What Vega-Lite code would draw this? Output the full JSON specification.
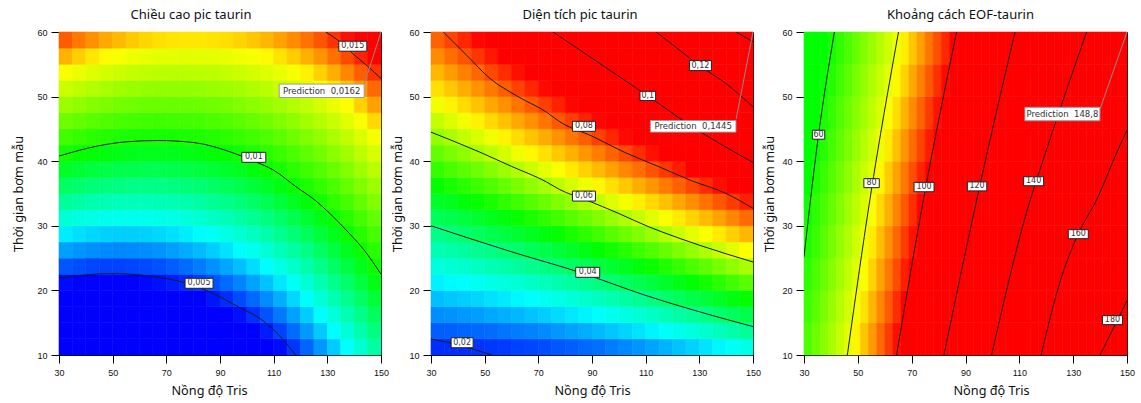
{
"$schema":"https://vega.github.io/schema/vega-lite/v6.json",
"background":"#ffffff",
"padding":{"left":12,"top":8,"right":0,"bottom":0},
"spacing":1,
"config":{
"view":{"stroke":"#000000","strokeWidth":1},
"axis":{"grid":false,"domainColor":"#000000","tickColor":"#000000","tickSize":8,"labelFont":"Liberation Sans","labelFontSize":9,"labelColor":"#111111","labelFlush":false,"labelOverlap":false,"titleFont":"Noto Sans","titleFontSize":12.7,"titleFontWeight":"normal","titleColor":"#111111"},
"axisX":{"labelPadding":5,"titlePadding":7},
"axisY":{"labelPadding":4},
"title":{"font":"Noto Sans","fontSize":13,"fontWeight":"normal","color":"#111111","offset":6}
},
"resolve":{"scale":{"color":"independent","stroke":"independent","shape":"independent"}},
"datasets":{
"h1":[
{"x":32.5,"y":11.25,"v":0.00223},{"x":32.5,"y":13.75,"v":0.00287},{"x":32.5,"y":16.25,"v":0.0035},{"x":32.5,"y":18.75,"v":0.00414},{"x":32.5,"y":21.25,"v":0.00479},{"x":32.5,"y":23.75,"v":0.00543},{"x":32.5,"y":26.25,"v":0.00608},{"x":32.5,"y":28.75,"v":0.00674},{"x":32.5,"y":31.25,"v":0.00739},{"x":32.5,"y":33.75,"v":0.00805},{"x":32.5,"y":36.25,"v":0.00871},{"x":32.5,"y":38.75,"v":0.00937},{"x":32.5,"y":41.25,"v":0.01004},{"x":32.5,"y":43.75,"v":0.01071},{"x":32.5,"y":46.25,"v":0.01138},{"x":32.5,"y":48.75,"v":0.01205},{"x":32.5,"y":51.25,"v":0.01273},{"x":32.5,"y":53.75,"v":0.01341},{"x":32.5,"y":56.25,"v":0.0141},{"x":32.5,"y":58.75,"v":0.01478},
{"x":37.5,"y":11.25,"v":0.0022},{"x":37.5,"y":13.75,"v":0.00283},{"x":37.5,"y":16.25,"v":0.00345},{"x":37.5,"y":18.75,"v":0.00409},{"x":37.5,"y":21.25,"v":0.00472},{"x":37.5,"y":23.75,"v":0.00536},{"x":37.5,"y":26.25,"v":0.00599},{"x":37.5,"y":28.75,"v":0.00664},{"x":37.5,"y":31.25,"v":0.00728},{"x":37.5,"y":33.75,"v":0.00793},{"x":37.5,"y":36.25,"v":0.00858},{"x":37.5,"y":38.75,"v":0.00923},{"x":37.5,"y":41.25,"v":0.00989},{"x":37.5,"y":43.75,"v":0.01055},{"x":37.5,"y":46.25,"v":0.01121},{"x":37.5,"y":48.75,"v":0.01187},{"x":37.5,"y":51.25,"v":0.01254},{"x":37.5,"y":53.75,"v":0.01321},{"x":37.5,"y":56.25,"v":0.01388},{"x":37.5,"y":58.75,"v":0.01456},
{"x":42.5,"y":11.25,"v":0.0022},{"x":42.5,"y":13.75,"v":0.00281},{"x":42.5,"y":16.25,"v":0.00343},{"x":42.5,"y":18.75,"v":0.00405},{"x":42.5,"y":21.25,"v":0.00467},{"x":42.5,"y":23.75,"v":0.0053},{"x":42.5,"y":26.25,"v":0.00593},{"x":42.5,"y":28.75,"v":0.00656},{"x":42.5,"y":31.25,"v":0.00719},{"x":42.5,"y":33.75,"v":0.00783},{"x":42.5,"y":36.25,"v":0.00847},{"x":42.5,"y":38.75,"v":0.00911},{"x":42.5,"y":41.25,"v":0.00976},{"x":42.5,"y":43.75,"v":0.01041},{"x":42.5,"y":46.25,"v":0.01106},{"x":42.5,"y":48.75,"v":0.01171},{"x":42.5,"y":51.25,"v":0.01237},{"x":42.5,"y":53.75,"v":0.01303},{"x":42.5,"y":56.25,"v":0.01369},{"x":42.5,"y":58.75,"v":0.01436},
{"x":47.5,"y":11.25,"v":0.00222},{"x":47.5,"y":13.75,"v":0.00283},{"x":47.5,"y":16.25,"v":0.00343},{"x":47.5,"y":18.75,"v":0.00404},{"x":47.5,"y":21.25,"v":0.00466},{"x":47.5,"y":23.75,"v":0.00527},{"x":47.5,"y":26.25,"v":0.00589},{"x":47.5,"y":28.75,"v":0.00651},{"x":47.5,"y":31.25,"v":0.00713},{"x":47.5,"y":33.75,"v":0.00776},{"x":47.5,"y":36.25,"v":0.00839},{"x":47.5,"y":38.75,"v":0.00902},{"x":47.5,"y":41.25,"v":0.00966},{"x":47.5,"y":43.75,"v":0.0103},{"x":47.5,"y":46.25,"v":0.01094},{"x":47.5,"y":48.75,"v":0.01158},{"x":47.5,"y":51.25,"v":0.01223},{"x":47.5,"y":53.75,"v":0.01288},{"x":47.5,"y":56.25,"v":0.01353},{"x":47.5,"y":58.75,"v":0.01418},
{"x":52.5,"y":11.25,"v":0.00227},{"x":52.5,"y":13.75,"v":0.00286},{"x":52.5,"y":16.25,"v":0.00346},{"x":52.5,"y":18.75,"v":0.00406},{"x":52.5,"y":21.25,"v":0.00466},{"x":52.5,"y":23.75,"v":0.00527},{"x":52.5,"y":26.25,"v":0.00587},{"x":52.5,"y":28.75,"v":0.00649},{"x":52.5,"y":31.25,"v":0.0071},{"x":52.5,"y":33.75,"v":0.00772},{"x":52.5,"y":36.25,"v":0.00834},{"x":52.5,"y":38.75,"v":0.00896},{"x":52.5,"y":41.25,"v":0.00958},{"x":52.5,"y":43.75,"v":0.01021},{"x":52.5,"y":46.25,"v":0.01084},{"x":52.5,"y":48.75,"v":0.01148},{"x":52.5,"y":51.25,"v":0.01211},{"x":52.5,"y":53.75,"v":0.01275},{"x":52.5,"y":56.25,"v":0.01339},{"x":52.5,"y":58.75,"v":0.01404},
{"x":57.5,"y":11.25,"v":0.00234},{"x":57.5,"y":13.75,"v":0.00292},{"x":57.5,"y":16.25,"v":0.00351},{"x":57.5,"y":18.75,"v":0.0041},{"x":57.5,"y":21.25,"v":0.00469},{"x":57.5,"y":23.75,"v":0.00529},{"x":57.5,"y":26.25,"v":0.00589},{"x":57.5,"y":28.75,"v":0.00649},{"x":57.5,"y":31.25,"v":0.00709},{"x":57.5,"y":33.75,"v":0.0077},{"x":57.5,"y":36.25,"v":0.00831},{"x":57.5,"y":38.75,"v":0.00892},{"x":57.5,"y":41.25,"v":0.00953},{"x":57.5,"y":43.75,"v":0.01015},{"x":57.5,"y":46.25,"v":0.01077},{"x":57.5,"y":48.75,"v":0.01139},{"x":57.5,"y":51.25,"v":0.01202},{"x":57.5,"y":53.75,"v":0.01265},{"x":57.5,"y":56.25,"v":0.01328},{"x":57.5,"y":58.75,"v":0.01391},
{"x":62.5,"y":11.25,"v":0.00244},{"x":62.5,"y":13.75,"v":0.00301},{"x":62.5,"y":16.25,"v":0.00359},{"x":62.5,"y":18.75,"v":0.00417},{"x":62.5,"y":21.25,"v":0.00475},{"x":62.5,"y":23.75,"v":0.00533},{"x":62.5,"y":26.25,"v":0.00592},{"x":62.5,"y":28.75,"v":0.00651},{"x":62.5,"y":31.25,"v":0.00711},{"x":62.5,"y":33.75,"v":0.0077},{"x":62.5,"y":36.25,"v":0.0083},{"x":62.5,"y":38.75,"v":0.0089},{"x":62.5,"y":41.25,"v":0.00951},{"x":62.5,"y":43.75,"v":0.01011},{"x":62.5,"y":46.25,"v":0.01072},{"x":62.5,"y":48.75,"v":0.01134},{"x":62.5,"y":51.25,"v":0.01195},{"x":62.5,"y":53.75,"v":0.01257},{"x":62.5,"y":56.25,"v":0.01319},{"x":62.5,"y":58.75,"v":0.01382},
{"x":67.5,"y":11.25,"v":0.00256},{"x":67.5,"y":13.75,"v":0.00312},{"x":67.5,"y":16.25,"v":0.00369},{"x":67.5,"y":18.75,"v":0.00426},{"x":67.5,"y":21.25,"v":0.00483},{"x":67.5,"y":23.75,"v":0.00541},{"x":67.5,"y":26.25,"v":0.00598},{"x":67.5,"y":28.75,"v":0.00656},{"x":67.5,"y":31.25,"v":0.00715},{"x":67.5,"y":33.75,"v":0.00773},{"x":67.5,"y":36.25,"v":0.00832},{"x":67.5,"y":38.75,"v":0.00891},{"x":67.5,"y":41.25,"v":0.00951},{"x":67.5,"y":43.75,"v":0.0101},{"x":67.5,"y":46.25,"v":0.0107},{"x":67.5,"y":48.75,"v":0.01131},{"x":67.5,"y":51.25,"v":0.01191},{"x":67.5,"y":53.75,"v":0.01252},{"x":67.5,"y":56.25,"v":0.01313},{"x":67.5,"y":58.75,"v":0.01374},
{"x":72.5,"y":11.25,"v":0.00271},{"x":72.5,"y":13.75,"v":0.00326},{"x":72.5,"y":16.25,"v":0.00382},{"x":72.5,"y":18.75,"v":0.00438},{"x":72.5,"y":21.25,"v":0.00494},{"x":72.5,"y":23.75,"v":0.0055},{"x":72.5,"y":26.25,"v":0.00607},{"x":72.5,"y":28.75,"v":0.00664},{"x":72.5,"y":31.25,"v":0.00721},{"x":72.5,"y":33.75,"v":0.00779},{"x":72.5,"y":36.25,"v":0.00836},{"x":72.5,"y":38.75,"v":0.00895},{"x":72.5,"y":41.25,"v":0.00953},{"x":72.5,"y":43.75,"v":0.01012},{"x":72.5,"y":46.25,"v":0.01071},{"x":72.5,"y":48.75,"v":0.0113},{"x":72.5,"y":51.25,"v":0.0119},{"x":72.5,"y":53.75,"v":0.01249},{"x":72.5,"y":56.25,"v":0.01309},{"x":72.5,"y":58.75,"v":0.0137},
{"x":77.5,"y":11.25,"v":0.00288},{"x":77.5,"y":13.75,"v":0.00342},{"x":77.5,"y":16.25,"v":0.00397},{"x":77.5,"y":18.75,"v":0.00452},{"x":77.5,"y":21.25,"v":0.00507},{"x":77.5,"y":23.75,"v":0.00562},{"x":77.5,"y":26.25,"v":0.00618},{"x":77.5,"y":28.75,"v":0.00674},{"x":77.5,"y":31.25,"v":0.0073},{"x":77.5,"y":33.75,"v":0.00787},{"x":77.5,"y":36.25,"v":0.00844},{"x":77.5,"y":38.75,"v":0.00901},{"x":77.5,"y":41.25,"v":0.00958},{"x":77.5,"y":43.75,"v":0.01016},{"x":77.5,"y":46.25,"v":0.01074},{"x":77.5,"y":48.75,"v":0.01132},{"x":77.5,"y":51.25,"v":0.0119},{"x":77.5,"y":53.75,"v":0.01249},{"x":77.5,"y":56.25,"v":0.01308},{"x":77.5,"y":58.75,"v":0.01368},
{"x":82.5,"y":11.25,"v":0.00308},{"x":82.5,"y":13.75,"v":0.00361},{"x":82.5,"y":16.25,"v":0.00415},{"x":82.5,"y":18.75,"v":0.00469},{"x":82.5,"y":21.25,"v":0.00523},{"x":82.5,"y":23.75,"v":0.00577},{"x":82.5,"y":26.25,"v":0.00632},{"x":82.5,"y":28.75,"v":0.00687},{"x":82.5,"y":31.25,"v":0.00742},{"x":82.5,"y":33.75,"v":0.00797},{"x":82.5,"y":36.25,"v":0.00853},{"x":82.5,"y":38.75,"v":0.00909},{"x":82.5,"y":41.25,"v":0.00966},{"x":82.5,"y":43.75,"v":0.01022},{"x":82.5,"y":46.25,"v":0.01079},{"x":82.5,"y":48.75,"v":0.01136},{"x":82.5,"y":51.25,"v":0.01194},{"x":82.5,"y":53.75,"v":0.01252},{"x":82.5,"y":56.25,"v":0.0131},{"x":82.5,"y":58.75,"v":0.01368},
{"x":87.5,"y":11.25,"v":0.0033},{"x":87.5,"y":13.75,"v":0.00383},{"x":87.5,"y":16.25,"v":0.00435},{"x":87.5,"y":18.75,"v":0.00488},{"x":87.5,"y":21.25,"v":0.00541},{"x":87.5,"y":23.75,"v":0.00594},{"x":87.5,"y":26.25,"v":0.00648},{"x":87.5,"y":28.75,"v":0.00702},{"x":87.5,"y":31.25,"v":0.00756},{"x":87.5,"y":33.75,"v":0.0081},{"x":87.5,"y":36.25,"v":0.00865},{"x":87.5,"y":38.75,"v":0.0092},{"x":87.5,"y":41.25,"v":0.00976},{"x":87.5,"y":43.75,"v":0.01031},{"x":87.5,"y":46.25,"v":0.01087},{"x":87.5,"y":48.75,"v":0.01143},{"x":87.5,"y":51.25,"v":0.012},{"x":87.5,"y":53.75,"v":0.01256},{"x":87.5,"y":56.25,"v":0.01313},{"x":87.5,"y":58.75,"v":0.01371},
{"x":92.5,"y":11.25,"v":0.00355},{"x":92.5,"y":13.75,"v":0.00406},{"x":92.5,"y":16.25,"v":0.00458},{"x":92.5,"y":18.75,"v":0.0051},{"x":92.5,"y":21.25,"v":0.00562},{"x":92.5,"y":23.75,"v":0.00614},{"x":92.5,"y":26.25,"v":0.00667},{"x":92.5,"y":28.75,"v":0.0072},{"x":92.5,"y":31.25,"v":0.00773},{"x":92.5,"y":33.75,"v":0.00826},{"x":92.5,"y":36.25,"v":0.0088},{"x":92.5,"y":38.75,"v":0.00934},{"x":92.5,"y":41.25,"v":0.00988},{"x":92.5,"y":43.75,"v":0.01043},{"x":92.5,"y":46.25,"v":0.01098},{"x":92.5,"y":48.75,"v":0.01153},{"x":92.5,"y":51.25,"v":0.01208},{"x":92.5,"y":53.75,"v":0.01264},{"x":92.5,"y":56.25,"v":0.0132},{"x":92.5,"y":58.75,"v":0.01376},
{"x":97.5,"y":11.25,"v":0.00383},{"x":97.5,"y":13.75,"v":0.00433},{"x":97.5,"y":16.25,"v":0.00483},{"x":97.5,"y":18.75,"v":0.00534},{"x":97.5,"y":21.25,"v":0.00585},{"x":97.5,"y":23.75,"v":0.00636},{"x":97.5,"y":26.25,"v":0.00688},{"x":97.5,"y":28.75,"v":0.0074},{"x":97.5,"y":31.25,"v":0.00792},{"x":97.5,"y":33.75,"v":0.00844},{"x":97.5,"y":36.25,"v":0.00897},{"x":97.5,"y":38.75,"v":0.0095},{"x":97.5,"y":41.25,"v":0.01003},{"x":97.5,"y":43.75,"v":0.01057},{"x":97.5,"y":46.25,"v":0.01111},{"x":97.5,"y":48.75,"v":0.01165},{"x":97.5,"y":51.25,"v":0.01219},{"x":97.5,"y":53.75,"v":0.01274},{"x":97.5,"y":56.25,"v":0.01329},{"x":97.5,"y":58.75,"v":0.01384},
{"x":102.5,"y":11.25,"v":0.00413},{"x":102.5,"y":13.75,"v":0.00462},{"x":102.5,"y":16.25,"v":0.00511},{"x":102.5,"y":18.75,"v":0.00561},{"x":102.5,"y":21.25,"v":0.00611},{"x":102.5,"y":23.75,"v":0.00661},{"x":102.5,"y":26.25,"v":0.00712},{"x":102.5,"y":28.75,"v":0.00762},{"x":102.5,"y":31.25,"v":0.00814},{"x":102.5,"y":33.75,"v":0.00865},{"x":102.5,"y":36.25,"v":0.00917},{"x":102.5,"y":38.75,"v":0.00969},{"x":102.5,"y":41.25,"v":0.01021},{"x":102.5,"y":43.75,"v":0.01073},{"x":102.5,"y":46.25,"v":0.01126},{"x":102.5,"y":48.75,"v":0.01179},{"x":102.5,"y":51.25,"v":0.01233},{"x":102.5,"y":53.75,"v":0.01286},{"x":102.5,"y":56.25,"v":0.0134},{"x":102.5,"y":58.75,"v":0.01394},
{"x":107.5,"y":11.25,"v":0.00445},{"x":107.5,"y":13.75,"v":0.00493},{"x":107.5,"y":16.25,"v":0.00542},{"x":107.5,"y":18.75,"v":0.0059},{"x":107.5,"y":21.25,"v":0.00639},{"x":107.5,"y":23.75,"v":0.00688},{"x":107.5,"y":26.25,"v":0.00738},{"x":107.5,"y":28.75,"v":0.00788},{"x":107.5,"y":31.25,"v":0.00838},{"x":107.5,"y":33.75,"v":0.00888},{"x":107.5,"y":36.25,"v":0.00939},{"x":107.5,"y":38.75,"v":0.0099},{"x":107.5,"y":41.25,"v":0.01041},{"x":107.5,"y":43.75,"v":0.01092},{"x":107.5,"y":46.25,"v":0.01144},{"x":107.5,"y":48.75,"v":0.01196},{"x":107.5,"y":51.25,"v":0.01249},{"x":107.5,"y":53.75,"v":0.01301},{"x":107.5,"y":56.25,"v":0.01354},{"x":107.5,"y":58.75,"v":0.01407},
{"x":112.5,"y":11.25,"v":0.0048},{"x":112.5,"y":13.75,"v":0.00527},{"x":112.5,"y":16.25,"v":0.00574},{"x":112.5,"y":18.75,"v":0.00622},{"x":112.5,"y":21.25,"v":0.0067},{"x":112.5,"y":23.75,"v":0.00718},{"x":112.5,"y":26.25,"v":0.00767},{"x":112.5,"y":28.75,"v":0.00815},{"x":112.5,"y":31.25,"v":0.00864},{"x":112.5,"y":33.75,"v":0.00914},{"x":112.5,"y":36.25,"v":0.00963},{"x":112.5,"y":38.75,"v":0.01013},{"x":112.5,"y":41.25,"v":0.01064},{"x":112.5,"y":43.75,"v":0.01114},{"x":112.5,"y":46.25,"v":0.01165},{"x":112.5,"y":48.75,"v":0.01216},{"x":112.5,"y":51.25,"v":0.01267},{"x":112.5,"y":53.75,"v":0.01319},{"x":112.5,"y":56.25,"v":0.01371},{"x":112.5,"y":58.75,"v":0.01423},
{"x":117.5,"y":11.25,"v":0.00517},{"x":117.5,"y":13.75,"v":0.00563},{"x":117.5,"y":16.25,"v":0.0061},{"x":117.5,"y":18.75,"v":0.00656},{"x":117.5,"y":21.25,"v":0.00703},{"x":117.5,"y":23.75,"v":0.0075},{"x":117.5,"y":26.25,"v":0.00798},{"x":117.5,"y":28.75,"v":0.00846},{"x":117.5,"y":31.25,"v":0.00894},{"x":117.5,"y":33.75,"v":0.00942},{"x":117.5,"y":36.25,"v":0.00991},{"x":117.5,"y":38.75,"v":0.01039},{"x":117.5,"y":41.25,"v":0.01089},{"x":117.5,"y":43.75,"v":0.01138},{"x":117.5,"y":46.25,"v":0.01188},{"x":117.5,"y":48.75,"v":0.01238},{"x":117.5,"y":51.25,"v":0.01288},{"x":117.5,"y":53.75,"v":0.01339},{"x":117.5,"y":56.25,"v":0.01389},{"x":117.5,"y":58.75,"v":0.01441},
{"x":122.5,"y":11.25,"v":0.00557},{"x":122.5,"y":13.75,"v":0.00602},{"x":122.5,"y":16.25,"v":0.00648},{"x":122.5,"y":18.75,"v":0.00693},{"x":122.5,"y":21.25,"v":0.00739},{"x":122.5,"y":23.75,"v":0.00785},{"x":122.5,"y":26.25,"v":0.00832},{"x":122.5,"y":28.75,"v":0.00879},{"x":122.5,"y":31.25,"v":0.00926},{"x":122.5,"y":33.75,"v":0.00973},{"x":122.5,"y":36.25,"v":0.0102},{"x":122.5,"y":38.75,"v":0.01068},{"x":122.5,"y":41.25,"v":0.01116},{"x":122.5,"y":43.75,"v":0.01165},{"x":122.5,"y":46.25,"v":0.01213},{"x":122.5,"y":48.75,"v":0.01262},{"x":122.5,"y":51.25,"v":0.01312},{"x":122.5,"y":53.75,"v":0.01361},{"x":122.5,"y":56.25,"v":0.01411},{"x":122.5,"y":58.75,"v":0.01461},
{"x":127.5,"y":11.25,"v":0.006},{"x":127.5,"y":13.75,"v":0.00644},{"x":127.5,"y":16.25,"v":0.00688},{"x":127.5,"y":18.75,"v":0.00733},{"x":127.5,"y":21.25,"v":0.00778},{"x":127.5,"y":23.75,"v":0.00823},{"x":127.5,"y":26.25,"v":0.00868},{"x":127.5,"y":28.75,"v":0.00914},{"x":127.5,"y":31.25,"v":0.0096},{"x":127.5,"y":33.75,"v":0.01006},{"x":127.5,"y":36.25,"v":0.01053},{"x":127.5,"y":38.75,"v":0.01099},{"x":127.5,"y":41.25,"v":0.01146},{"x":127.5,"y":43.75,"v":0.01194},{"x":127.5,"y":46.25,"v":0.01242},{"x":127.5,"y":48.75,"v":0.01289},{"x":127.5,"y":51.25,"v":0.01338},{"x":127.5,"y":53.75,"v":0.01386},{"x":127.5,"y":56.25,"v":0.01435},{"x":127.5,"y":58.75,"v":0.01484},
{"x":132.5,"y":11.25,"v":0.00645},{"x":132.5,"y":13.75,"v":0.00688},{"x":132.5,"y":16.25,"v":0.00731},{"x":132.5,"y":18.75,"v":0.00775},{"x":132.5,"y":21.25,"v":0.00819},{"x":132.5,"y":23.75,"v":0.00863},{"x":132.5,"y":26.25,"v":0.00907},{"x":132.5,"y":28.75,"v":0.00952},{"x":132.5,"y":31.25,"v":0.00997},{"x":132.5,"y":33.75,"v":0.01042},{"x":132.5,"y":36.25,"v":0.01087},{"x":132.5,"y":38.75,"v":0.01133},{"x":132.5,"y":41.25,"v":0.01179},{"x":132.5,"y":43.75,"v":0.01226},{"x":132.5,"y":46.25,"v":0.01272},{"x":132.5,"y":48.75,"v":0.01319},{"x":132.5,"y":51.25,"v":0.01366},{"x":132.5,"y":53.75,"v":0.01414},{"x":132.5,"y":56.25,"v":0.01462},{"x":132.5,"y":58.75,"v":0.0151},
{"x":137.5,"y":11.25,"v":0.00692},{"x":137.5,"y":13.75,"v":0.00734},{"x":137.5,"y":16.25,"v":0.00777},{"x":137.5,"y":18.75,"v":0.00819},{"x":137.5,"y":21.25,"v":0.00862},{"x":137.5,"y":23.75,"v":0.00905},{"x":137.5,"y":26.25,"v":0.00948},{"x":137.5,"y":28.75,"v":0.00992},{"x":137.5,"y":31.25,"v":0.01036},{"x":137.5,"y":33.75,"v":0.0108},{"x":137.5,"y":36.25,"v":0.01125},{"x":137.5,"y":38.75,"v":0.01169},{"x":137.5,"y":41.25,"v":0.01214},{"x":137.5,"y":43.75,"v":0.0126},{"x":137.5,"y":46.25,"v":0.01305},{"x":137.5,"y":48.75,"v":0.01351},{"x":137.5,"y":51.25,"v":0.01397},{"x":137.5,"y":53.75,"v":0.01444},{"x":137.5,"y":56.25,"v":0.01491},{"x":137.5,"y":58.75,"v":0.01538},
{"x":142.5,"y":11.25,"v":0.00743},{"x":142.5,"y":13.75,"v":0.00784},{"x":142.5,"y":16.25,"v":0.00825},{"x":142.5,"y":18.75,"v":0.00866},{"x":142.5,"y":21.25,"v":0.00908},{"x":142.5,"y":23.75,"v":0.0095},{"x":142.5,"y":26.25,"v":0.00992},{"x":142.5,"y":28.75,"v":0.01035},{"x":142.5,"y":31.25,"v":0.01078},{"x":142.5,"y":33.75,"v":0.01121},{"x":142.5,"y":36.25,"v":0.01164},{"x":142.5,"y":38.75,"v":0.01208},{"x":142.5,"y":41.25,"v":0.01252},{"x":142.5,"y":43.75,"v":0.01296},{"x":142.5,"y":46.25,"v":0.01341},{"x":142.5,"y":48.75,"v":0.01386},{"x":142.5,"y":51.25,"v":0.01431},{"x":142.5,"y":53.75,"v":0.01476},{"x":142.5,"y":56.25,"v":0.01522},{"x":142.5,"y":58.75,"v":0.01568},
{"x":147.5,"y":11.25,"v":0.00795},{"x":147.5,"y":13.75,"v":0.00835},{"x":147.5,"y":16.25,"v":0.00875},{"x":147.5,"y":18.75,"v":0.00916},{"x":147.5,"y":21.25,"v":0.00956},{"x":147.5,"y":23.75,"v":0.00997},{"x":147.5,"y":26.25,"v":0.01039},{"x":147.5,"y":28.75,"v":0.0108},{"x":147.5,"y":31.25,"v":0.01122},{"x":147.5,"y":33.75,"v":0.01164},{"x":147.5,"y":36.25,"v":0.01207},{"x":147.5,"y":38.75,"v":0.01249},{"x":147.5,"y":41.25,"v":0.01292},{"x":147.5,"y":43.75,"v":0.01336},{"x":147.5,"y":46.25,"v":0.01379},{"x":147.5,"y":48.75,"v":0.01423},{"x":147.5,"y":51.25,"v":0.01467},{"x":147.5,"y":53.75,"v":0.01511},{"x":147.5,"y":56.25,"v":0.01556},{"x":147.5,"y":58.75,"v":0.01601}
],
"h2":[
{"x":32.5,"y":11.25,"v":0.0195},{"x":32.5,"y":13.75,"v":0.0221},{"x":32.5,"y":16.25,"v":0.0248},{"x":32.5,"y":18.75,"v":0.0275},{"x":32.5,"y":21.25,"v":0.0303},{"x":32.5,"y":23.75,"v":0.0332},{"x":32.5,"y":26.25,"v":0.0361},{"x":32.5,"y":28.75,"v":0.039},{"x":32.5,"y":31.25,"v":0.0421},{"x":32.5,"y":33.75,"v":0.0452},{"x":32.5,"y":36.25,"v":0.0483},{"x":32.5,"y":38.75,"v":0.0515},{"x":32.5,"y":41.25,"v":0.0546},{"x":32.5,"y":43.75,"v":0.0578},{"x":32.5,"y":46.25,"v":0.0609},{"x":32.5,"y":48.75,"v":0.0641},{"x":32.5,"y":51.25,"v":0.0673},{"x":32.5,"y":53.75,"v":0.0704},{"x":32.5,"y":56.25,"v":0.0736},{"x":32.5,"y":58.75,"v":0.0767},
{"x":37.5,"y":11.25,"v":0.0195},{"x":37.5,"y":13.75,"v":0.0222},{"x":37.5,"y":16.25,"v":0.025},{"x":37.5,"y":18.75,"v":0.0279},{"x":37.5,"y":21.25,"v":0.0308},{"x":37.5,"y":23.75,"v":0.0338},{"x":37.5,"y":26.25,"v":0.0368},{"x":37.5,"y":28.75,"v":0.0399},{"x":37.5,"y":31.25,"v":0.043},{"x":37.5,"y":33.75,"v":0.0462},{"x":37.5,"y":36.25,"v":0.0495},{"x":37.5,"y":38.75,"v":0.0528},{"x":37.5,"y":41.25,"v":0.056},{"x":37.5,"y":43.75,"v":0.0593},{"x":37.5,"y":46.25,"v":0.0626},{"x":37.5,"y":48.75,"v":0.0658},{"x":37.5,"y":51.25,"v":0.0691},{"x":37.5,"y":53.75,"v":0.0724},{"x":37.5,"y":56.25,"v":0.0757},{"x":37.5,"y":58.75,"v":0.0789},
{"x":42.5,"y":11.25,"v":0.0196},{"x":42.5,"y":13.75,"v":0.0225},{"x":42.5,"y":16.25,"v":0.0254},{"x":42.5,"y":18.75,"v":0.0283},{"x":42.5,"y":21.25,"v":0.0313},{"x":42.5,"y":23.75,"v":0.0344},{"x":42.5,"y":26.25,"v":0.0376},{"x":42.5,"y":28.75,"v":0.0408},{"x":42.5,"y":31.25,"v":0.044},{"x":42.5,"y":33.75,"v":0.0474},{"x":42.5,"y":36.25,"v":0.0507},{"x":42.5,"y":38.75,"v":0.0541},{"x":42.5,"y":41.25,"v":0.0575},{"x":42.5,"y":43.75,"v":0.0609},{"x":42.5,"y":46.25,"v":0.0642},{"x":42.5,"y":48.75,"v":0.0676},{"x":42.5,"y":51.25,"v":0.071},{"x":42.5,"y":53.75,"v":0.0744},{"x":42.5,"y":56.25,"v":0.0778},{"x":42.5,"y":58.75,"v":0.0812},
{"x":47.5,"y":11.25,"v":0.0198},{"x":47.5,"y":13.75,"v":0.0227},{"x":47.5,"y":16.25,"v":0.0257},{"x":47.5,"y":18.75,"v":0.0288},{"x":47.5,"y":21.25,"v":0.032},{"x":47.5,"y":23.75,"v":0.0352},{"x":47.5,"y":26.25,"v":0.0384},{"x":47.5,"y":28.75,"v":0.0417},{"x":47.5,"y":31.25,"v":0.0451},{"x":47.5,"y":33.75,"v":0.0485},{"x":47.5,"y":36.25,"v":0.052},{"x":47.5,"y":38.75,"v":0.0555},{"x":47.5,"y":41.25,"v":0.059},{"x":47.5,"y":43.75,"v":0.0625},{"x":47.5,"y":46.25,"v":0.066},{"x":47.5,"y":48.75,"v":0.0695},{"x":47.5,"y":51.25,"v":0.073},{"x":47.5,"y":53.75,"v":0.0765},{"x":47.5,"y":56.25,"v":0.08},{"x":47.5,"y":58.75,"v":0.0835},
{"x":52.5,"y":11.25,"v":0.02},{"x":52.5,"y":13.75,"v":0.023},{"x":52.5,"y":16.25,"v":0.0262},{"x":52.5,"y":18.75,"v":0.0294},{"x":52.5,"y":21.25,"v":0.0326},{"x":52.5,"y":23.75,"v":0.0359},{"x":52.5,"y":26.25,"v":0.0393},{"x":52.5,"y":28.75,"v":0.0427},{"x":52.5,"y":31.25,"v":0.0462},{"x":52.5,"y":33.75,"v":0.0497},{"x":52.5,"y":36.25,"v":0.0533},{"x":52.5,"y":38.75,"v":0.0569},{"x":52.5,"y":41.25,"v":0.0605},{"x":52.5,"y":43.75,"v":0.0641},{"x":52.5,"y":46.25,"v":0.0678},{"x":52.5,"y":48.75,"v":0.0714},{"x":52.5,"y":51.25,"v":0.075},{"x":52.5,"y":53.75,"v":0.0786},{"x":52.5,"y":56.25,"v":0.0822},{"x":52.5,"y":58.75,"v":0.0858},
{"x":57.5,"y":11.25,"v":0.0202},{"x":57.5,"y":13.75,"v":0.0234},{"x":57.5,"y":16.25,"v":0.0266},{"x":57.5,"y":18.75,"v":0.0299},{"x":57.5,"y":21.25,"v":0.0333},{"x":57.5,"y":23.75,"v":0.0367},{"x":57.5,"y":26.25,"v":0.0402},{"x":57.5,"y":28.75,"v":0.0437},{"x":57.5,"y":31.25,"v":0.0473},{"x":57.5,"y":33.75,"v":0.051},{"x":57.5,"y":36.25,"v":0.0547},{"x":57.5,"y":38.75,"v":0.0584},{"x":57.5,"y":41.25,"v":0.0621},{"x":57.5,"y":43.75,"v":0.0659},{"x":57.5,"y":46.25,"v":0.0696},{"x":57.5,"y":48.75,"v":0.0733},{"x":57.5,"y":51.25,"v":0.077},{"x":57.5,"y":53.75,"v":0.0807},{"x":57.5,"y":56.25,"v":0.0844},{"x":57.5,"y":58.75,"v":0.0882},
{"x":62.5,"y":11.25,"v":0.0205},{"x":62.5,"y":13.75,"v":0.0238},{"x":62.5,"y":16.25,"v":0.0271},{"x":62.5,"y":18.75,"v":0.0306},{"x":62.5,"y":21.25,"v":0.034},{"x":62.5,"y":23.75,"v":0.0376},{"x":62.5,"y":26.25,"v":0.0411},{"x":62.5,"y":28.75,"v":0.0448},{"x":62.5,"y":31.25,"v":0.0485},{"x":62.5,"y":33.75,"v":0.0523},{"x":62.5,"y":36.25,"v":0.0561},{"x":62.5,"y":38.75,"v":0.0599},{"x":62.5,"y":41.25,"v":0.0638},{"x":62.5,"y":43.75,"v":0.0676},{"x":62.5,"y":46.25,"v":0.0714},{"x":62.5,"y":48.75,"v":0.0753},{"x":62.5,"y":51.25,"v":0.0791},{"x":62.5,"y":53.75,"v":0.0829},{"x":62.5,"y":56.25,"v":0.0867},{"x":62.5,"y":58.75,"v":0.0906},
{"x":67.5,"y":11.25,"v":0.0208},{"x":67.5,"y":13.75,"v":0.0242},{"x":67.5,"y":16.25,"v":0.0277},{"x":67.5,"y":18.75,"v":0.0312},{"x":67.5,"y":21.25,"v":0.0348},{"x":67.5,"y":23.75,"v":0.0385},{"x":67.5,"y":26.25,"v":0.0422},{"x":67.5,"y":28.75,"v":0.0459},{"x":67.5,"y":31.25,"v":0.0497},{"x":67.5,"y":33.75,"v":0.0536},{"x":67.5,"y":36.25,"v":0.0576},{"x":67.5,"y":38.75,"v":0.0615},{"x":67.5,"y":41.25,"v":0.0655},{"x":67.5,"y":43.75,"v":0.0694},{"x":67.5,"y":46.25,"v":0.0733},{"x":67.5,"y":48.75,"v":0.0773},{"x":67.5,"y":51.25,"v":0.0812},{"x":67.5,"y":53.75,"v":0.0852},{"x":67.5,"y":56.25,"v":0.0891},{"x":67.5,"y":58.75,"v":0.0931},
{"x":72.5,"y":11.25,"v":0.0212},{"x":72.5,"y":13.75,"v":0.0247},{"x":72.5,"y":16.25,"v":0.0283},{"x":72.5,"y":18.75,"v":0.032},{"x":72.5,"y":21.25,"v":0.0356},{"x":72.5,"y":23.75,"v":0.0394},{"x":72.5,"y":26.25,"v":0.0432},{"x":72.5,"y":28.75,"v":0.0471},{"x":72.5,"y":31.25,"v":0.051},{"x":72.5,"y":33.75,"v":0.055},{"x":72.5,"y":36.25,"v":0.0591},{"x":72.5,"y":38.75,"v":0.0631},{"x":72.5,"y":41.25,"v":0.0672},{"x":72.5,"y":43.75,"v":0.0712},{"x":72.5,"y":46.25,"v":0.0753},{"x":72.5,"y":48.75,"v":0.0794},{"x":72.5,"y":51.25,"v":0.0834},{"x":72.5,"y":53.75,"v":0.0875},{"x":72.5,"y":56.25,"v":0.0915},{"x":72.5,"y":58.75,"v":0.0956},
{"x":77.5,"y":11.25,"v":0.0217},{"x":77.5,"y":13.75,"v":0.0253},{"x":77.5,"y":16.25,"v":0.029},{"x":77.5,"y":18.75,"v":0.0327},{"x":77.5,"y":21.25,"v":0.0365},{"x":77.5,"y":23.75,"v":0.0404},{"x":77.5,"y":26.25,"v":0.0443},{"x":77.5,"y":28.75,"v":0.0483},{"x":77.5,"y":31.25,"v":0.0524},{"x":77.5,"y":33.75,"v":0.0565},{"x":77.5,"y":36.25,"v":0.0606},{"x":77.5,"y":38.75,"v":0.0648},{"x":77.5,"y":41.25,"v":0.069},{"x":77.5,"y":43.75,"v":0.0731},{"x":77.5,"y":46.25,"v":0.0773},{"x":77.5,"y":48.75,"v":0.0815},{"x":77.5,"y":51.25,"v":0.0857},{"x":77.5,"y":53.75,"v":0.0898},{"x":77.5,"y":56.25,"v":0.094},{"x":77.5,"y":58.75,"v":0.0982},
{"x":82.5,"y":11.25,"v":0.0221},{"x":82.5,"y":13.75,"v":0.0259},{"x":82.5,"y":16.25,"v":0.0297},{"x":82.5,"y":18.75,"v":0.0335},{"x":82.5,"y":21.25,"v":0.0375},{"x":82.5,"y":23.75,"v":0.0414},{"x":82.5,"y":26.25,"v":0.0455},{"x":82.5,"y":28.75,"v":0.0496},{"x":82.5,"y":31.25,"v":0.0537},{"x":82.5,"y":33.75,"v":0.058},{"x":82.5,"y":36.25,"v":0.0622},{"x":82.5,"y":38.75,"v":0.0665},{"x":82.5,"y":41.25,"v":0.0708},{"x":82.5,"y":43.75,"v":0.0751},{"x":82.5,"y":46.25,"v":0.0794},{"x":82.5,"y":48.75,"v":0.0836},{"x":82.5,"y":51.25,"v":0.0879},{"x":82.5,"y":53.75,"v":0.0922},{"x":82.5,"y":56.25,"v":0.0965},{"x":82.5,"y":58.75,"v":0.1008},
{"x":87.5,"y":11.25,"v":0.0227},{"x":87.5,"y":13.75,"v":0.0265},{"x":87.5,"y":16.25,"v":0.0304},{"x":87.5,"y":18.75,"v":0.0344},{"x":87.5,"y":21.25,"v":0.0384},{"x":87.5,"y":23.75,"v":0.0425},{"x":87.5,"y":26.25,"v":0.0467},{"x":87.5,"y":28.75,"v":0.0509},{"x":87.5,"y":31.25,"v":0.0552},{"x":87.5,"y":33.75,"v":0.0595},{"x":87.5,"y":36.25,"v":0.0639},{"x":87.5,"y":38.75,"v":0.0683},{"x":87.5,"y":41.25,"v":0.0727},{"x":87.5,"y":43.75,"v":0.0771},{"x":87.5,"y":46.25,"v":0.0815},{"x":87.5,"y":48.75,"v":0.0859},{"x":87.5,"y":51.25,"v":0.0903},{"x":87.5,"y":53.75,"v":0.0947},{"x":87.5,"y":56.25,"v":0.099},{"x":87.5,"y":58.75,"v":0.1034},
{"x":92.5,"y":11.25,"v":0.0232},{"x":92.5,"y":13.75,"v":0.0272},{"x":92.5,"y":16.25,"v":0.0312},{"x":92.5,"y":18.75,"v":0.0353},{"x":92.5,"y":21.25,"v":0.0395},{"x":92.5,"y":23.75,"v":0.0437},{"x":92.5,"y":26.25,"v":0.0479},{"x":92.5,"y":28.75,"v":0.0523},{"x":92.5,"y":31.25,"v":0.0566},{"x":92.5,"y":33.75,"v":0.0611},{"x":92.5,"y":36.25,"v":0.0656},{"x":92.5,"y":38.75,"v":0.0701},{"x":92.5,"y":41.25,"v":0.0746},{"x":92.5,"y":43.75,"v":0.0791},{"x":92.5,"y":46.25,"v":0.0836},{"x":92.5,"y":48.75,"v":0.0881},{"x":92.5,"y":51.25,"v":0.0926},{"x":92.5,"y":53.75,"v":0.0971},{"x":92.5,"y":56.25,"v":0.1016},{"x":92.5,"y":58.75,"v":0.1061},
{"x":97.5,"y":11.25,"v":0.0238},{"x":97.5,"y":13.75,"v":0.0279},{"x":97.5,"y":16.25,"v":0.0321},{"x":97.5,"y":18.75,"v":0.0363},{"x":97.5,"y":21.25,"v":0.0405},{"x":97.5,"y":23.75,"v":0.0448},{"x":97.5,"y":26.25,"v":0.0492},{"x":97.5,"y":28.75,"v":0.0537},{"x":97.5,"y":31.25,"v":0.0582},{"x":97.5,"y":33.75,"v":0.0627},{"x":97.5,"y":36.25,"v":0.0673},{"x":97.5,"y":38.75,"v":0.0719},{"x":97.5,"y":41.25,"v":0.0766},{"x":97.5,"y":43.75,"v":0.0812},{"x":97.5,"y":46.25,"v":0.0858},{"x":97.5,"y":48.75,"v":0.0904},{"x":97.5,"y":51.25,"v":0.095},{"x":97.5,"y":53.75,"v":0.0997},{"x":97.5,"y":56.25,"v":0.1043},{"x":97.5,"y":58.75,"v":0.1089},
{"x":102.5,"y":11.25,"v":0.0245},{"x":102.5,"y":13.75,"v":0.0287},{"x":102.5,"y":16.25,"v":0.033},{"x":102.5,"y":18.75,"v":0.0373},{"x":102.5,"y":21.25,"v":0.0416},{"x":102.5,"y":23.75,"v":0.0461},{"x":102.5,"y":26.25,"v":0.0506},{"x":102.5,"y":28.75,"v":0.0551},{"x":102.5,"y":31.25,"v":0.0597},{"x":102.5,"y":33.75,"v":0.0644},{"x":102.5,"y":36.25,"v":0.0691},{"x":102.5,"y":38.75,"v":0.0739},{"x":102.5,"y":41.25,"v":0.0786},{"x":102.5,"y":43.75,"v":0.0833},{"x":102.5,"y":46.25,"v":0.088},{"x":102.5,"y":48.75,"v":0.0928},{"x":102.5,"y":51.25,"v":0.0975},{"x":102.5,"y":53.75,"v":0.1022},{"x":102.5,"y":56.25,"v":0.107},{"x":102.5,"y":58.75,"v":0.1117},
{"x":107.5,"y":11.25,"v":0.0252},{"x":107.5,"y":13.75,"v":0.0295},{"x":107.5,"y":16.25,"v":0.0339},{"x":107.5,"y":18.75,"v":0.0383},{"x":107.5,"y":21.25,"v":0.0428},{"x":107.5,"y":23.75,"v":0.0474},{"x":107.5,"y":26.25,"v":0.052},{"x":107.5,"y":28.75,"v":0.0566},{"x":107.5,"y":31.25,"v":0.0613},{"x":107.5,"y":33.75,"v":0.0661},{"x":107.5,"y":36.25,"v":0.071},{"x":107.5,"y":38.75,"v":0.0758},{"x":107.5,"y":41.25,"v":0.0807},{"x":107.5,"y":43.75,"v":0.0855},{"x":107.5,"y":46.25,"v":0.0903},{"x":107.5,"y":48.75,"v":0.0952},{"x":107.5,"y":51.25,"v":0.1},{"x":107.5,"y":53.75,"v":0.1049},{"x":107.5,"y":56.25,"v":0.1097},{"x":107.5,"y":58.75,"v":0.1146},
{"x":112.5,"y":11.25,"v":0.026},{"x":112.5,"y":13.75,"v":0.0304},{"x":112.5,"y":16.25,"v":0.0349},{"x":112.5,"y":18.75,"v":0.0394},{"x":112.5,"y":21.25,"v":0.044},{"x":112.5,"y":23.75,"v":0.0487},{"x":112.5,"y":26.25,"v":0.0534},{"x":112.5,"y":28.75,"v":0.0582},{"x":112.5,"y":31.25,"v":0.063},{"x":112.5,"y":33.75,"v":0.0679},{"x":112.5,"y":36.25,"v":0.0729},{"x":112.5,"y":38.75,"v":0.0778},{"x":112.5,"y":41.25,"v":0.0828},{"x":112.5,"y":43.75,"v":0.0877},{"x":112.5,"y":46.25,"v":0.0927},{"x":112.5,"y":48.75,"v":0.0976},{"x":112.5,"y":51.25,"v":0.1026},{"x":112.5,"y":53.75,"v":0.1075},{"x":112.5,"y":56.25,"v":0.1125},{"x":112.5,"y":58.75,"v":0.1175},
{"x":117.5,"y":11.25,"v":0.0268},{"x":117.5,"y":13.75,"v":0.0313},{"x":117.5,"y":16.25,"v":0.0359},{"x":117.5,"y":18.75,"v":0.0406},{"x":117.5,"y":21.25,"v":0.0453},{"x":117.5,"y":23.75,"v":0.05},{"x":117.5,"y":26.25,"v":0.0549},{"x":117.5,"y":28.75,"v":0.0598},{"x":117.5,"y":31.25,"v":0.0647},{"x":117.5,"y":33.75,"v":0.0697},{"x":117.5,"y":36.25,"v":0.0748},{"x":117.5,"y":38.75,"v":0.0798},{"x":117.5,"y":41.25,"v":0.0849},{"x":117.5,"y":43.75,"v":0.09},{"x":117.5,"y":46.25,"v":0.0951},{"x":117.5,"y":48.75,"v":0.1001},{"x":117.5,"y":51.25,"v":0.1052},{"x":117.5,"y":53.75,"v":0.1103},{"x":117.5,"y":56.25,"v":0.1153},{"x":117.5,"y":58.75,"v":0.1204},
{"x":122.5,"y":11.25,"v":0.0277},{"x":122.5,"y":13.75,"v":0.0323},{"x":122.5,"y":16.25,"v":0.037},{"x":122.5,"y":18.75,"v":0.0418},{"x":122.5,"y":21.25,"v":0.0466},{"x":122.5,"y":23.75,"v":0.0515},{"x":122.5,"y":26.25,"v":0.0564},{"x":122.5,"y":28.75,"v":0.0614},{"x":122.5,"y":31.25,"v":0.0665},{"x":122.5,"y":33.75,"v":0.0716},{"x":122.5,"y":36.25,"v":0.0768},{"x":122.5,"y":38.75,"v":0.0819},{"x":122.5,"y":41.25,"v":0.0871},{"x":122.5,"y":43.75,"v":0.0923},{"x":122.5,"y":46.25,"v":0.0975},{"x":122.5,"y":48.75,"v":0.1027},{"x":122.5,"y":51.25,"v":0.1079},{"x":122.5,"y":53.75,"v":0.113},{"x":122.5,"y":56.25,"v":0.1182},{"x":122.5,"y":58.75,"v":0.1234},
{"x":127.5,"y":11.25,"v":0.0286},{"x":127.5,"y":13.75,"v":0.0333},{"x":127.5,"y":16.25,"v":0.0381},{"x":127.5,"y":18.75,"v":0.043},{"x":127.5,"y":21.25,"v":0.0479},{"x":127.5,"y":23.75,"v":0.0529},{"x":127.5,"y":26.25,"v":0.058},{"x":127.5,"y":28.75,"v":0.0631},{"x":127.5,"y":31.25,"v":0.0683},{"x":127.5,"y":33.75,"v":0.0735},{"x":127.5,"y":36.25,"v":0.0788},{"x":127.5,"y":38.75,"v":0.0841},{"x":127.5,"y":41.25,"v":0.0894},{"x":127.5,"y":43.75,"v":0.0947},{"x":127.5,"y":46.25,"v":0.1},{"x":127.5,"y":48.75,"v":0.1053},{"x":127.5,"y":51.25,"v":0.1106},{"x":127.5,"y":53.75,"v":0.1159},{"x":127.5,"y":56.25,"v":0.1211},{"x":127.5,"y":58.75,"v":0.1264},
{"x":132.5,"y":11.25,"v":0.0295},{"x":132.5,"y":13.75,"v":0.0344},{"x":132.5,"y":16.25,"v":0.0393},{"x":132.5,"y":18.75,"v":0.0443},{"x":132.5,"y":21.25,"v":0.0493},{"x":132.5,"y":23.75,"v":0.0544},{"x":132.5,"y":26.25,"v":0.0596},{"x":132.5,"y":28.75,"v":0.0648},{"x":132.5,"y":31.25,"v":0.0701},{"x":132.5,"y":33.75,"v":0.0755},{"x":132.5,"y":36.25,"v":0.0809},{"x":132.5,"y":38.75,"v":0.0863},{"x":132.5,"y":41.25,"v":0.0917},{"x":132.5,"y":43.75,"v":0.0971},{"x":132.5,"y":46.25,"v":0.1025},{"x":132.5,"y":48.75,"v":0.1079},{"x":132.5,"y":51.25,"v":0.1133},{"x":132.5,"y":53.75,"v":0.1187},{"x":132.5,"y":56.25,"v":0.1241},{"x":132.5,"y":58.75,"v":0.1295},
{"x":137.5,"y":11.25,"v":0.0305},{"x":137.5,"y":13.75,"v":0.0355},{"x":137.5,"y":16.25,"v":0.0405},{"x":137.5,"y":18.75,"v":0.0456},{"x":137.5,"y":21.25,"v":0.0508},{"x":137.5,"y":23.75,"v":0.056},{"x":137.5,"y":26.25,"v":0.0613},{"x":137.5,"y":28.75,"v":0.0666},{"x":137.5,"y":31.25,"v":0.072},{"x":137.5,"y":33.75,"v":0.0775},{"x":137.5,"y":36.25,"v":0.083},{"x":137.5,"y":38.75,"v":0.0885},{"x":137.5,"y":41.25,"v":0.094},{"x":137.5,"y":43.75,"v":0.0996},{"x":137.5,"y":46.25,"v":0.1051},{"x":137.5,"y":48.75,"v":0.1106},{"x":137.5,"y":51.25,"v":0.1161},{"x":137.5,"y":53.75,"v":0.1216},{"x":137.5,"y":56.25,"v":0.1271},{"x":137.5,"y":58.75,"v":0.1327},
{"x":142.5,"y":11.25,"v":0.0316},{"x":142.5,"y":13.75,"v":0.0367},{"x":142.5,"y":16.25,"v":0.0418},{"x":142.5,"y":18.75,"v":0.047},{"x":142.5,"y":21.25,"v":0.0523},{"x":142.5,"y":23.75,"v":0.0576},{"x":142.5,"y":26.25,"v":0.063},{"x":142.5,"y":28.75,"v":0.0685},{"x":142.5,"y":31.25,"v":0.074},{"x":142.5,"y":33.75,"v":0.0795},{"x":142.5,"y":36.25,"v":0.0852},{"x":142.5,"y":38.75,"v":0.0908},{"x":142.5,"y":41.25,"v":0.0964},{"x":142.5,"y":43.75,"v":0.1021},{"x":142.5,"y":46.25,"v":0.1077},{"x":142.5,"y":48.75,"v":0.1133},{"x":142.5,"y":51.25,"v":0.1189},{"x":142.5,"y":53.75,"v":0.1246},{"x":142.5,"y":56.25,"v":0.1302},{"x":142.5,"y":58.75,"v":0.1358},
{"x":147.5,"y":11.25,"v":0.0326},{"x":147.5,"y":13.75,"v":0.0379},{"x":147.5,"y":16.25,"v":0.0431},{"x":147.5,"y":18.75,"v":0.0484},{"x":147.5,"y":21.25,"v":0.0538},{"x":147.5,"y":23.75,"v":0.0593},{"x":147.5,"y":26.25,"v":0.0648},{"x":147.5,"y":28.75,"v":0.0703},{"x":147.5,"y":31.25,"v":0.076},{"x":147.5,"y":33.75,"v":0.0816},{"x":147.5,"y":36.25,"v":0.0874},{"x":147.5,"y":38.75,"v":0.0931},{"x":147.5,"y":41.25,"v":0.0989},{"x":147.5,"y":43.75,"v":0.1046},{"x":147.5,"y":46.25,"v":0.1104},{"x":147.5,"y":48.75,"v":0.1161},{"x":147.5,"y":51.25,"v":0.1218},{"x":147.5,"y":53.75,"v":0.1276},{"x":147.5,"y":56.25,"v":0.1333},{"x":147.5,"y":58.75,"v":0.1391}
],
"h3":[
{"x":31.5,"y":12.5,"v":65.2},{"x":34.5,"y":12.5,"v":68.1},{"x":37.5,"y":12.5,"v":70.9},{"x":40.5,"y":12.5,"v":73.8},{"x":43.5,"y":12.5,"v":76.7},{"x":46.5,"y":12.5,"v":79.5},{"x":49.5,"y":12.5,"v":82.7},{"x":52.5,"y":12.5,"v":86},{"x":55.5,"y":12.5,"v":89.2},{"x":58.5,"y":12.5,"v":92.5},{"x":61.5,"y":12.5,"v":95.8},{"x":64.5,"y":12.5,"v":99},{"x":67.5,"y":12.5,"v":102.3},{"x":70.5,"y":12.5,"v":105.7},{"x":73.5,"y":12.5,"v":109},{"x":76.5,"y":12.5,"v":112.4},{"x":79.5,"y":12.5,"v":115.7},{"x":82.5,"y":12.5,"v":119.1},{"x":85.5,"y":12.5,"v":122.5},{"x":88.5,"y":12.5,"v":125.8},{"x":91.5,"y":12.5,"v":129.2},{"x":94.5,"y":12.5,"v":132.5},{"x":97.5,"y":12.5,"v":135.9},{"x":100.5,"y":12.5,"v":139.2},{"x":103.5,"y":12.5,"v":142.5},{"x":106.5,"y":12.5,"v":145.8},{"x":109.5,"y":12.5,"v":149},{"x":112.5,"y":12.5,"v":152.3},{"x":115.5,"y":12.5,"v":155.5},{"x":118.5,"y":12.5,"v":158.8},{"x":121.5,"y":12.5,"v":161.7},{"x":124.5,"y":12.5,"v":164.4},{"x":127.5,"y":12.5,"v":167.1},{"x":130.5,"y":12.5,"v":169.8},{"x":133.5,"y":12.5,"v":172.5},{"x":136.5,"y":12.5,"v":175.2},{"x":139.5,"y":12.5,"v":177.8},{"x":142.5,"y":12.5,"v":180.5},{"x":145.5,"y":12.5,"v":183.3},{"x":148.5,"y":12.5,"v":186},
{"x":31.5,"y":17.5,"v":63.7},{"x":34.5,"y":17.5,"v":66.5},{"x":37.5,"y":17.5,"v":69.4},{"x":40.5,"y":17.5,"v":72.2},{"x":43.5,"y":17.5,"v":75.1},{"x":46.5,"y":17.5,"v":77.9},{"x":49.5,"y":17.5,"v":80.9},{"x":52.5,"y":17.5,"v":84},{"x":55.5,"y":17.5,"v":87.2},{"x":58.5,"y":17.5,"v":90.4},{"x":61.5,"y":17.5,"v":93.6},{"x":64.5,"y":17.5,"v":96.8},{"x":67.5,"y":17.5,"v":100},{"x":70.5,"y":17.5,"v":103.3},{"x":73.5,"y":17.5,"v":106.6},{"x":76.5,"y":17.5,"v":109.8},{"x":79.5,"y":17.5,"v":113.1},{"x":82.5,"y":17.5,"v":116.4},{"x":85.5,"y":17.5,"v":119.7},{"x":88.5,"y":17.5,"v":122.8},{"x":91.5,"y":17.5,"v":126.1},{"x":94.5,"y":17.5,"v":129.4},{"x":97.5,"y":17.5,"v":132.7},{"x":100.5,"y":17.5,"v":136.1},{"x":103.5,"y":17.5,"v":139.3},{"x":106.5,"y":17.5,"v":142.6},{"x":109.5,"y":17.5,"v":145.8},{"x":112.5,"y":17.5,"v":149},{"x":115.5,"y":17.5,"v":152.3},{"x":118.5,"y":17.5,"v":155.5},{"x":121.5,"y":17.5,"v":158.7},{"x":124.5,"y":17.5,"v":161.4},{"x":127.5,"y":17.5,"v":163.8},{"x":130.5,"y":17.5,"v":166.2},{"x":133.5,"y":17.5,"v":168.6},{"x":136.5,"y":17.5,"v":170.9},{"x":139.5,"y":17.5,"v":173.3},{"x":142.5,"y":17.5,"v":175.7},{"x":145.5,"y":17.5,"v":178.1},{"x":148.5,"y":17.5,"v":180.5},
{"x":31.5,"y":22.5,"v":62.2},{"x":34.5,"y":22.5,"v":65},{"x":37.5,"y":22.5,"v":67.8},{"x":40.5,"y":22.5,"v":70.6},{"x":43.5,"y":22.5,"v":73.4},{"x":46.5,"y":22.5,"v":76.3},{"x":49.5,"y":22.5,"v":79.1},{"x":52.5,"y":22.5,"v":82.1},{"x":55.5,"y":22.5,"v":85.2},{"x":58.5,"y":22.5,"v":88.4},{"x":61.5,"y":22.5,"v":91.5},{"x":64.5,"y":22.5,"v":94.7},{"x":67.5,"y":22.5,"v":97.8},{"x":70.5,"y":22.5,"v":101},{"x":73.5,"y":22.5,"v":104.2},{"x":76.5,"y":22.5,"v":107.4},{"x":79.5,"y":22.5,"v":110.6},{"x":82.5,"y":22.5,"v":113.8},{"x":85.5,"y":22.5,"v":117},{"x":88.5,"y":22.5,"v":120.2},{"x":91.5,"y":22.5,"v":123.4},{"x":94.5,"y":22.5,"v":126.6},{"x":97.5,"y":22.5,"v":129.8},{"x":100.5,"y":22.5,"v":133},{"x":103.5,"y":22.5,"v":136.3},{"x":106.5,"y":22.5,"v":139.5},{"x":109.5,"y":22.5,"v":142.6},{"x":112.5,"y":22.5,"v":145.7},{"x":115.5,"y":22.5,"v":148.9},{"x":118.5,"y":22.5,"v":152},{"x":121.5,"y":22.5,"v":155.1},{"x":124.5,"y":22.5,"v":158.2},{"x":127.5,"y":22.5,"v":160.9},{"x":130.5,"y":22.5,"v":163.1},{"x":133.5,"y":22.5,"v":165.3},{"x":136.5,"y":22.5,"v":167.4},{"x":139.5,"y":22.5,"v":169.6},{"x":142.5,"y":22.5,"v":171.7},{"x":145.5,"y":22.5,"v":173.9},{"x":148.5,"y":22.5,"v":176},
{"x":31.5,"y":27.5,"v":60.7},{"x":34.5,"y":27.5,"v":63.5},{"x":37.5,"y":27.5,"v":66.3},{"x":40.5,"y":27.5,"v":69.1},{"x":43.5,"y":27.5,"v":71.9},{"x":46.5,"y":27.5,"v":74.7},{"x":49.5,"y":27.5,"v":77.5},{"x":52.5,"y":27.5,"v":80.3},{"x":55.5,"y":27.5,"v":83.4},{"x":58.5,"y":27.5,"v":86.5},{"x":61.5,"y":27.5,"v":89.6},{"x":64.5,"y":27.5,"v":92.7},{"x":67.5,"y":27.5,"v":95.8},{"x":70.5,"y":27.5,"v":98.9},{"x":73.5,"y":27.5,"v":102},{"x":76.5,"y":27.5,"v":105.1},{"x":79.5,"y":27.5,"v":108.2},{"x":82.5,"y":27.5,"v":111.3},{"x":85.5,"y":27.5,"v":114.4},{"x":88.5,"y":27.5,"v":117.5},{"x":91.5,"y":27.5,"v":120.6},{"x":94.5,"y":27.5,"v":123.8},{"x":97.5,"y":27.5,"v":126.9},{"x":100.5,"y":27.5,"v":130.1},{"x":103.5,"y":27.5,"v":133.2},{"x":106.5,"y":27.5,"v":136.3},{"x":109.5,"y":27.5,"v":139.5},{"x":112.5,"y":27.5,"v":142.4},{"x":115.5,"y":27.5,"v":145.3},{"x":118.5,"y":27.5,"v":148.2},{"x":121.5,"y":27.5,"v":151.1},{"x":124.5,"y":27.5,"v":154},{"x":127.5,"y":27.5,"v":156.9},{"x":130.5,"y":27.5,"v":159.8},{"x":133.5,"y":27.5,"v":161.9},{"x":136.5,"y":27.5,"v":163.9},{"x":139.5,"y":27.5,"v":165.9},{"x":142.5,"y":27.5,"v":167.9},{"x":145.5,"y":27.5,"v":169.9},{"x":148.5,"y":27.5,"v":171.9},
{"x":31.5,"y":32.5,"v":59.2},{"x":34.5,"y":32.5,"v":62},{"x":37.5,"y":32.5,"v":64.7},{"x":40.5,"y":32.5,"v":67.5},{"x":43.5,"y":32.5,"v":70.3},{"x":46.5,"y":32.5,"v":73.1},{"x":49.5,"y":32.5,"v":75.9},{"x":52.5,"y":32.5,"v":78.7},{"x":55.5,"y":32.5,"v":81.6},{"x":58.5,"y":32.5,"v":84.6},{"x":61.5,"y":32.5,"v":87.6},{"x":64.5,"y":32.5,"v":90.7},{"x":67.5,"y":32.5,"v":93.7},{"x":70.5,"y":32.5,"v":96.8},{"x":73.5,"y":32.5,"v":99.8},{"x":76.5,"y":32.5,"v":102.8},{"x":79.5,"y":32.5,"v":105.9},{"x":82.5,"y":32.5,"v":108.9},{"x":85.5,"y":32.5,"v":112},{"x":88.5,"y":32.5,"v":115},{"x":91.5,"y":32.5,"v":118.1},{"x":94.5,"y":32.5,"v":121.1},{"x":97.5,"y":32.5,"v":124.2},{"x":100.5,"y":32.5,"v":127.3},{"x":103.5,"y":32.5,"v":130.3},{"x":106.5,"y":32.5,"v":133.4},{"x":109.5,"y":32.5,"v":136.4},{"x":112.5,"y":32.5,"v":139.5},{"x":115.5,"y":32.5,"v":142.1},{"x":118.5,"y":32.5,"v":144.6},{"x":121.5,"y":32.5,"v":147.2},{"x":124.5,"y":32.5,"v":149.7},{"x":127.5,"y":32.5,"v":152.2},{"x":130.5,"y":32.5,"v":154.8},{"x":133.5,"y":32.5,"v":157.3},{"x":136.5,"y":32.5,"v":159.8},{"x":139.5,"y":32.5,"v":161.9},{"x":142.5,"y":32.5,"v":163.9},{"x":145.5,"y":32.5,"v":165.9},{"x":148.5,"y":32.5,"v":167.9},
{"x":31.5,"y":37.5,"v":57.6},{"x":34.5,"y":37.5,"v":60.4},{"x":37.5,"y":37.5,"v":63.1},{"x":40.5,"y":37.5,"v":65.9},{"x":43.5,"y":37.5,"v":68.6},{"x":46.5,"y":37.5,"v":71.4},{"x":49.5,"y":37.5,"v":74.1},{"x":52.5,"y":37.5,"v":76.9},{"x":55.5,"y":37.5,"v":79.6},{"x":58.5,"y":37.5,"v":82.6},{"x":61.5,"y":37.5,"v":85.6},{"x":64.5,"y":37.5,"v":88.6},{"x":67.5,"y":37.5,"v":91.5},{"x":70.5,"y":37.5,"v":94.5},{"x":73.5,"y":37.5,"v":97.5},{"x":76.5,"y":37.5,"v":100.5},{"x":79.5,"y":37.5,"v":103.5},{"x":82.5,"y":37.5,"v":106.5},{"x":85.5,"y":37.5,"v":109.5},{"x":88.5,"y":37.5,"v":112.4},{"x":91.5,"y":37.5,"v":115.4},{"x":94.5,"y":37.5,"v":118.4},{"x":97.5,"y":37.5,"v":121.4},{"x":100.5,"y":37.5,"v":124.3},{"x":103.5,"y":37.5,"v":127.2},{"x":106.5,"y":37.5,"v":130.1},{"x":109.5,"y":37.5,"v":133},{"x":112.5,"y":37.5,"v":135.8},{"x":115.5,"y":37.5,"v":138.7},{"x":118.5,"y":37.5,"v":141.3},{"x":121.5,"y":37.5,"v":143.7},{"x":124.5,"y":37.5,"v":146},{"x":127.5,"y":37.5,"v":148.4},{"x":130.5,"y":37.5,"v":150.7},{"x":133.5,"y":37.5,"v":153.1},{"x":136.5,"y":37.5,"v":155.4},{"x":139.5,"y":37.5,"v":157.8},{"x":142.5,"y":37.5,"v":160.1},{"x":145.5,"y":37.5,"v":162},{"x":148.5,"y":37.5,"v":163.8},
{"x":31.5,"y":42.5,"v":56.2},{"x":34.5,"y":42.5,"v":58.9},{"x":37.5,"y":42.5,"v":61.6},{"x":40.5,"y":42.5,"v":64.3},{"x":43.5,"y":42.5,"v":67},{"x":46.5,"y":42.5,"v":69.7},{"x":49.5,"y":42.5,"v":72.4},{"x":52.5,"y":42.5,"v":75.1},{"x":55.5,"y":42.5,"v":77.8},{"x":58.5,"y":42.5,"v":80.6},{"x":61.5,"y":42.5,"v":83.5},{"x":64.5,"y":42.5,"v":86.4},{"x":67.5,"y":42.5,"v":89.4},{"x":70.5,"y":42.5,"v":92.3},{"x":73.5,"y":42.5,"v":95.2},{"x":76.5,"y":42.5,"v":98.1},{"x":79.5,"y":42.5,"v":101.1},{"x":82.5,"y":42.5,"v":104},{"x":85.5,"y":42.5,"v":107},{"x":88.5,"y":42.5,"v":109.9},{"x":91.5,"y":42.5,"v":112.9},{"x":94.5,"y":42.5,"v":115.8},{"x":97.5,"y":42.5,"v":118.7},{"x":100.5,"y":42.5,"v":121.6},{"x":103.5,"y":42.5,"v":124.3},{"x":106.5,"y":42.5,"v":127},{"x":109.5,"y":42.5,"v":129.8},{"x":112.5,"y":42.5,"v":132.5},{"x":115.5,"y":42.5,"v":135.3},{"x":118.5,"y":42.5,"v":138},{"x":121.5,"y":42.5,"v":140.6},{"x":124.5,"y":42.5,"v":142.8},{"x":127.5,"y":42.5,"v":145.1},{"x":130.5,"y":42.5,"v":147.3},{"x":133.5,"y":42.5,"v":149.6},{"x":136.5,"y":42.5,"v":151.8},{"x":139.5,"y":42.5,"v":154.1},{"x":142.5,"y":42.5,"v":156.3},{"x":145.5,"y":42.5,"v":158.6},{"x":148.5,"y":42.5,"v":160.6},
{"x":31.5,"y":47.5,"v":54.9},{"x":34.5,"y":47.5,"v":57.5},{"x":37.5,"y":47.5,"v":60.2},{"x":40.5,"y":47.5,"v":62.8},{"x":43.5,"y":47.5,"v":65.5},{"x":46.5,"y":47.5,"v":68.1},{"x":49.5,"y":47.5,"v":70.7},{"x":52.5,"y":47.5,"v":73.4},{"x":55.5,"y":47.5,"v":76},{"x":58.5,"y":47.5,"v":78.7},{"x":61.5,"y":47.5,"v":81.4},{"x":64.5,"y":47.5,"v":84.3},{"x":67.5,"y":47.5,"v":87.2},{"x":70.5,"y":47.5,"v":90.1},{"x":73.5,"y":47.5,"v":93},{"x":76.5,"y":47.5,"v":95.9},{"x":79.5,"y":47.5,"v":98.7},{"x":82.5,"y":47.5,"v":101.6},{"x":85.5,"y":47.5,"v":104.5},{"x":88.5,"y":47.5,"v":107.4},{"x":91.5,"y":47.5,"v":110.3},{"x":94.5,"y":47.5,"v":113.2},{"x":97.5,"y":47.5,"v":116.1},{"x":100.5,"y":47.5,"v":119},{"x":103.5,"y":47.5,"v":121.7},{"x":106.5,"y":47.5,"v":124.3},{"x":109.5,"y":47.5,"v":126.9},{"x":112.5,"y":47.5,"v":129.4},{"x":115.5,"y":47.5,"v":132},{"x":118.5,"y":47.5,"v":134.6},{"x":121.5,"y":47.5,"v":137.2},{"x":124.5,"y":47.5,"v":139.7},{"x":127.5,"y":47.5,"v":141.9},{"x":130.5,"y":47.5,"v":144},{"x":133.5,"y":47.5,"v":146.1},{"x":136.5,"y":47.5,"v":148.2},{"x":139.5,"y":47.5,"v":150.3},{"x":142.5,"y":47.5,"v":152.4},{"x":145.5,"y":47.5,"v":154.5},{"x":148.5,"y":47.5,"v":156.6},
{"x":31.5,"y":52.5,"v":53.6},{"x":34.5,"y":52.5,"v":56.2},{"x":37.5,"y":52.5,"v":58.8},{"x":40.5,"y":52.5,"v":61.4},{"x":43.5,"y":52.5,"v":64},{"x":46.5,"y":52.5,"v":66.6},{"x":49.5,"y":52.5,"v":69.2},{"x":52.5,"y":52.5,"v":71.8},{"x":55.5,"y":52.5,"v":74.4},{"x":58.5,"y":52.5,"v":77},{"x":61.5,"y":52.5,"v":79.6},{"x":64.5,"y":52.5,"v":82.4},{"x":67.5,"y":52.5,"v":85.2},{"x":70.5,"y":52.5,"v":88.1},{"x":73.5,"y":52.5,"v":90.9},{"x":76.5,"y":52.5,"v":93.7},{"x":79.5,"y":52.5,"v":96.6},{"x":82.5,"y":52.5,"v":99.4},{"x":85.5,"y":52.5,"v":102.3},{"x":88.5,"y":52.5,"v":105.1},{"x":91.5,"y":52.5,"v":107.9},{"x":94.5,"y":52.5,"v":110.8},{"x":97.5,"y":52.5,"v":113.6},{"x":100.5,"y":52.5,"v":116.4},{"x":103.5,"y":52.5,"v":119.2},{"x":106.5,"y":52.5,"v":121.8},{"x":109.5,"y":52.5,"v":124.2},{"x":112.5,"y":52.5,"v":126.7},{"x":115.5,"y":52.5,"v":129.1},{"x":118.5,"y":52.5,"v":131.5},{"x":121.5,"y":52.5,"v":134},{"x":124.5,"y":52.5,"v":136.4},{"x":127.5,"y":52.5,"v":138.9},{"x":130.5,"y":52.5,"v":141.1},{"x":133.5,"y":52.5,"v":143.1},{"x":136.5,"y":52.5,"v":145.1},{"x":139.5,"y":52.5,"v":147.1},{"x":142.5,"y":52.5,"v":149.1},{"x":145.5,"y":52.5,"v":151.1},{"x":148.5,"y":52.5,"v":153.1},
{"x":31.5,"y":57.5,"v":52.4},{"x":34.5,"y":57.5,"v":54.9},{"x":37.5,"y":57.5,"v":57.5},{"x":40.5,"y":57.5,"v":60},{"x":43.5,"y":57.5,"v":62.5},{"x":46.5,"y":57.5,"v":65.1},{"x":49.5,"y":57.5,"v":67.6},{"x":52.5,"y":57.5,"v":70.2},{"x":55.5,"y":57.5,"v":72.7},{"x":58.5,"y":57.5,"v":75.2},{"x":61.5,"y":57.5,"v":77.8},{"x":64.5,"y":57.5,"v":80.4},{"x":67.5,"y":57.5,"v":83.2},{"x":70.5,"y":57.5,"v":86},{"x":73.5,"y":57.5,"v":88.8},{"x":76.5,"y":57.5,"v":91.6},{"x":79.5,"y":57.5,"v":94.4},{"x":82.5,"y":57.5,"v":97.2},{"x":85.5,"y":57.5,"v":100},{"x":88.5,"y":57.5,"v":102.8},{"x":91.5,"y":57.5,"v":105.6},{"x":94.5,"y":57.5,"v":108.4},{"x":97.5,"y":57.5,"v":111.2},{"x":100.5,"y":57.5,"v":114},{"x":103.5,"y":57.5,"v":116.7},{"x":106.5,"y":57.5,"v":119.5},{"x":109.5,"y":57.5,"v":121.9},{"x":112.5,"y":57.5,"v":124.2},{"x":115.5,"y":57.5,"v":126.5},{"x":118.5,"y":57.5,"v":128.8},{"x":121.5,"y":57.5,"v":131.2},{"x":124.5,"y":57.5,"v":133.5},{"x":127.5,"y":57.5,"v":135.8},{"x":130.5,"y":57.5,"v":138.1},{"x":133.5,"y":57.5,"v":140.3},{"x":136.5,"y":57.5,"v":142.2},{"x":139.5,"y":57.5,"v":144.1},{"x":142.5,"y":57.5,"v":145.9},{"x":145.5,"y":57.5,"v":147.8},{"x":148.5,"y":57.5,"v":149.7}
],
"c1":[
{"k":"a","x":30,"y":21.9},{"k":"a","x":40,"y":22.4},{"k":"a","x":49.5,"y":22.6},{"k":"a","x":64,"y":22.2},{"k":"a","x":76.7,"y":21.2},{"k":"a","x":85.4,"y":19.9},{"k":"a","x":95.3,"y":17.8},{"k":"a","x":107.7,"y":14.75},{"k":"a","x":113,"y":12.6},{"k":"a","x":118.2,"y":10},
{"k":"b","x":30,"y":40.8},{"k":"b","x":45,"y":42.4},{"k":"b","x":55,"y":43},{"k":"b","x":66.8,"y":43.2},{"k":"b","x":80,"y":42.9},{"k":"b","x":94.1,"y":41.4},{"k":"b","x":102.7,"y":40},{"k":"b","x":110,"y":38.6},{"k":"b","x":118.8,"y":35.9},{"k":"b","x":125,"y":34.1},{"k":"b","x":131.2,"y":31.8},{"k":"b","x":138.7,"y":28.6},{"k":"b","x":143.6,"y":26.3},{"k":"b","x":150,"y":22.5},
{"k":"c","x":129.4,"y":60},{"k":"c","x":134,"y":58.7},{"k":"c","x":139.9,"y":56.5},{"k":"c","x":145,"y":54.7},{"k":"c","x":150,"y":52.8}
],
"c2":[
{"k":"a","x":30,"y":12.5},{"k":"a","x":41.6,"y":11.4},{"k":"a","x":52.6,"y":10},
{"k":"b","x":30,"y":30},{"k":"b","x":60.6,"y":25.9},{"k":"b","x":85.4,"y":22.8},{"k":"b","x":110.2,"y":19.2},{"k":"b","x":135,"y":16.1},{"k":"b","x":150,"y":14.4},
{"k":"c","x":30,"y":44.5},{"k":"c","x":48.2,"y":41.4},{"k":"c","x":60,"y":39.2},{"k":"c","x":73,"y":36.8},{"k":"c","x":78,"y":35.6},{"k":"c","x":87.9,"y":34},{"k":"c","x":100,"y":31.9},{"k":"c","x":111.4,"y":29.8},{"k":"c","x":116.4,"y":29},{"k":"c","x":130,"y":27},{"k":"c","x":150,"y":24.4},
{"k":"d","x":34.6,"y":60},{"k":"d","x":43.3,"y":56.4},{"k":"d","x":52,"y":52.8},{"k":"d","x":62,"y":50.1},{"k":"d","x":73,"y":47.6},{"k":"d","x":78,"y":46.1},{"k":"d","x":90.4,"y":43.8},{"k":"d","x":102,"y":41.4},{"k":"d","x":115.2,"y":39.1},{"k":"d","x":127,"y":37},{"k":"d","x":140,"y":35},{"k":"d","x":150,"y":32.7},
{"k":"e","x":75.5,"y":60},{"k":"e","x":78,"y":59.3},{"k":"e","x":96.6,"y":54.1},{"k":"e","x":110.8,"y":50.1},{"k":"e","x":127.5,"y":45.3},{"k":"e","x":150,"y":39.8},
{"k":"f","x":113.9,"y":60},{"k":"f","x":122,"y":57.4},{"k":"f","x":130,"y":54.8},{"k":"f","x":140,"y":52},{"k":"f","x":150,"y":48.4},
{"k":"g","x":143.7,"y":60},{"k":"g","x":150,"y":58.5}
],
"c3":[
{"k":"a","x":30,"y":25.2},{"k":"a","x":35.4,"y":44.1},{"k":"a","x":41.3,"y":60},
{"k":"b","x":46.1,"y":10},{"k":"b","x":54.5,"y":34.1},{"k":"b","x":65.1,"y":60},
{"k":"c","x":64.4,"y":10},{"k":"c","x":74.4,"y":34.1},{"k":"c","x":86.7,"y":60},
{"k":"d","x":82,"y":10},{"k":"d","x":94.2,"y":34.1},{"k":"d","x":108.4,"y":60},
{"k":"e","x":99.7,"y":10},{"k":"e","x":112.7,"y":32.1},{"k":"e","x":120.2,"y":41.9},{"k":"e","x":135,"y":60},
{"k":"f","x":118.1,"y":10},{"k":"f","x":125.1,"y":21.3},{"k":"f","x":131.7,"y":28.6},{"k":"f","x":138.8,"y":34.1},{"k":"f","x":146.8,"y":41.9},{"k":"f","x":150,"y":44.8},
{"k":"g","x":140,"y":10},{"k":"g","x":150,"y":18.4}
],
"l1":[{"x":82.2,"y":21.1,"t":"0,005"},{"x":102.6,"y":40.6,"t":"0,01"},{"x":139.5,"y":57.8,"t":"0,015"}],
"l2":[{"x":41.6,"y":11.9,"t":"0,02"},{"x":88.4,"y":22.8,"t":"0,04"},{"x":87,"y":34.6,"t":"0,06"},{"x":87,"y":45.4,"t":"0,08"},{"x":110.8,"y":50.1,"t":"0,1"},{"x":130.4,"y":54.8,"t":"0,12"}],
"l3":[{"x":35.4,"y":44.1,"t":"60"},{"x":55.1,"y":36.6,"t":"80"},{"x":74.6,"y":36,"t":"100"},{"x":94.3,"y":36.1,"t":"120"},{"x":115.3,"y":36.9,"t":"140"},{"x":131.9,"y":28.7,"t":"160"},{"x":144.6,"y":15.4,"t":"180"}],
"p1":[{"x":127.9,"y":50.9,"t":"Prediction\u00a0 0,0162"}],
"p2":[{"x":127.7,"y":45.4,"t":"Prediction\u00a0 0,1445"}],
"p3":[{"x":126,"y":47.3,"t":"Prediction\u00a0 148,8"}],
"r1":[{"x":150,"y":60,"x2":143.7,"y2":51.9}],
"r2":[{"x":150,"y":60,"x2":143.7,"y2":46.5}],
"r3":[{"x":150,"y":60,"x2":140,"y2":48.1}]
},
"hconcat":[
{
"width":322,"height":323,
"title":{"text":"Chiều cao pic taurin","dx":-29},
"layer":[
{"data":{"name":"h1"},"mark":{"type":"rect","strokeWidth":0.6},
"encoding":{
"x":{"field":"x","type":"ordinal","sort":"ascending","scale":{"paddingInner":0,"paddingOuter":0},"axis":null},
"y":{"field":"y","type":"ordinal","sort":"descending","scale":{"paddingInner":0,"paddingOuter":0},"axis":null},
"color":{"field":"v","type":"quantitative","scale":{"domain":[0.0047,0.0069,0.0098,0.0135,0.0155],"range":["#0000ff","#00ffff","#00ff00","#ffff00","#ff0000"],"clamp":true,"interpolate":"rgb"},"legend":null},
"stroke":{"field":"v","type":"quantitative","scale":{"domain":[0.0047,0.0069,0.0098,0.0135,0.0155],"range":["#0000ff","#00ffff","#00ff00","#ffff00","#ff0000"],"clamp":true,"interpolate":"rgb"},"legend":null}
}},
{"encoding":{
"x":{"field":"x","type":"quantitative","scale":{"domain":[30,150],"nice":false,"zero":false},"axis":{"orient":"bottom","values":[30,50,70,90,110,130,150],"title":"Nồng độ Tris","titleX":150}},
"y":{"field":"y","type":"quantitative","scale":{"domain":[10,60],"nice":false,"zero":false},"axis":{"orient":"left","values":[10,20,30,40,50,60],"title":"Thời gian bơm mẫu","titlePadding":11}}
},
"layer":[
{"data":{"name":"c1"},"mark":{"type":"line","color":"#1a1a1a","strokeWidth":1,"interpolate":"monotone","clip":true},"encoding":{"detail":{"field":"k","type":"nominal"}}},
{"data":{"name":"r1"},"mark":{"type":"rule","color":"#8c8c8c","strokeWidth":1},"encoding":{"x2":{"field":"x2"},"y2":{"field":"y2"}}},
{"data":{"name":"l1"},"mark":{"type":"point","filled":true,"fill":"#ffffff","stroke":"#222222","strokeWidth":1,"opacity":1,"size":400},
"encoding":{"shape":{"field":"t","type":"nominal","scale":{"domain":["0,005","0,01","0,015"],"range":["M-1.4,-0.5L1.4,-0.5L1.4,0.5L-1.4,0.5Z","M-1.2,-0.5L1.2,-0.5L1.2,0.5L-1.2,0.5Z","M-1.4,-0.5L1.4,-0.5L1.4,0.5L-1.4,0.5Z"]},"legend":null}}},
{"data":{"name":"l1"},"mark":{"type":"text","font":"DejaVu Sans","fontSize":8,"color":"#333333","align":"center","baseline":"middle"},"encoding":{"text":{"field":"t","type":"nominal"}}},
{"data":{"name":"p1"},"mark":{"type":"point","shape":"M-4.25,-0.67L4.25,-0.67L4.25,0.67L-4.25,0.67Z","filled":true,"fill":"#ffffff","stroke":"#9a9a9a","strokeWidth":1,"opacity":1,"size":400}},
{"data":{"name":"p1"},"mark":{"type":"text","font":"DejaVu Sans","fontSize":8.5,"color":"#333333","align":"center","baseline":"middle"},"encoding":{"text":{"field":"t","type":"nominal"}}}
]}
],
"resolve":{"scale":{"x":"independent","y":"independent"}}
},
{
"width":322,"height":323,
"title":{"text":"Diện tích pic taurin","dx":-12},
"layer":[
{"data":{"name":"h2"},"mark":{"type":"rect","strokeWidth":0.6},
"encoding":{
"x":{"field":"x","type":"ordinal","sort":"ascending","scale":{"paddingInner":0,"paddingOuter":0},"axis":null},
"y":{"field":"y","type":"ordinal","sort":"descending","scale":{"paddingInner":0,"paddingOuter":0},"axis":null},
"color":{"field":"v","type":"quantitative","scale":{"domain":[0.017,0.031,0.048,0.065,0.084],"range":["#0000ff","#00ffff","#00ff00","#ffff00","#ff0000"],"clamp":true,"interpolate":"rgb"},"legend":null},
"stroke":{"field":"v","type":"quantitative","scale":{"domain":[0.017,0.031,0.048,0.065,0.084],"range":["#0000ff","#00ffff","#00ff00","#ffff00","#ff0000"],"clamp":true,"interpolate":"rgb"},"legend":null}
}},
{"encoding":{
"x":{"field":"x","type":"quantitative","scale":{"domain":[30,150],"nice":false,"zero":false},"axis":{"orient":"bottom","values":[30,50,70,90,110,130,150],"title":"Nồng độ Tris","titleX":161}},
"y":{"field":"y","type":"quantitative","scale":{"domain":[10,60],"nice":false,"zero":false},"axis":{"orient":"left","values":[10,20,30,40,50,60],"title":"Thời gian bơm mẫu","titlePadding":4}}
},
"layer":[
{"data":{"name":"c2"},"mark":{"type":"line","color":"#1a1a1a","strokeWidth":1,"interpolate":"monotone","clip":true},"encoding":{"detail":{"field":"k","type":"nominal"}}},
{"data":{"name":"r2"},"mark":{"type":"rule","color":"#8c8c8c","strokeWidth":1},"encoding":{"x2":{"field":"x2"},"y2":{"field":"y2"}}},
{"data":{"name":"l2"},"mark":{"type":"point","filled":true,"fill":"#ffffff","stroke":"#222222","strokeWidth":1,"opacity":1,"size":400},
"encoding":{"shape":{"field":"t","type":"nominal","scale":{"domain":["0,02","0,04","0,06","0,08","0,1","0,12"],"range":["M-1.1,-0.5L1.1,-0.5L1.1,0.5L-1.1,0.5Z","M-1.2,-0.5L1.2,-0.5L1.2,0.5L-1.2,0.5Z","M-1.15,-0.5L1.15,-0.5L1.15,0.5L-1.15,0.5Z","M-1.15,-0.5L1.15,-0.5L1.15,0.5L-1.15,0.5Z","M-0.78,-0.46L0.78,-0.46L0.78,0.46L-0.78,0.46Z","M-1.1,-0.5L1.1,-0.5L1.1,0.5L-1.1,0.5Z"]},"legend":null}}},
{"data":{"name":"l2"},"mark":{"type":"text","font":"DejaVu Sans","fontSize":8,"color":"#333333","align":"center","baseline":"middle"},"encoding":{"text":{"field":"t","type":"nominal"}}},
{"data":{"name":"p2"},"mark":{"type":"point","shape":"M-4.28,-0.58L4.28,-0.58L4.28,0.58L-4.28,0.58Z","filled":true,"fill":"#ffffff","stroke":"#9a9a9a","strokeWidth":1,"opacity":1,"size":400}},
{"data":{"name":"p2"},"mark":{"type":"text","font":"DejaVu Sans","fontSize":8.5,"color":"#333333","align":"center","baseline":"middle"},"encoding":{"text":{"field":"t","type":"nominal"}}}
]}
],
"resolve":{"scale":{"x":"independent","y":"independent"}}
},
{
"width":323,"height":323,
"title":{"text":"Khoảng cách EOF-taurin","dx":-5},
"layer":[
{"data":{"name":"h3"},"mark":{"type":"rect","strokeWidth":0.6},
"encoding":{
"x":{"field":"x","type":"ordinal","sort":"ascending","scale":{"paddingInner":0,"paddingOuter":0},"axis":null},
"y":{"field":"y","type":"ordinal","sort":"descending","scale":{"paddingInner":0,"paddingOuter":0},"axis":null},
"color":{"field":"v","type":"quantitative","scale":{"domain":[58,82,100],"range":["#00ff00","#ffff00","#ff0000"],"clamp":true,"interpolate":"rgb"},"legend":null},
"stroke":{"field":"v","type":"quantitative","scale":{"domain":[58,82,100],"range":["#00ff00","#ffff00","#ff0000"],"clamp":true,"interpolate":"rgb"},"legend":null}
}},
{"encoding":{
"x":{"field":"x","type":"quantitative","scale":{"domain":[30,150],"nice":false,"zero":false},"axis":{"orient":"bottom","values":[30,50,70,90,110,130,150],"title":"Nồng độ Tris","titleX":187}},
"y":{"field":"y","type":"quantitative","scale":{"domain":[10,60],"nice":false,"zero":false},"axis":{"orient":"left","values":[10,20,30,40,50,60],"title":"Thời gian bơm mẫu","titlePadding":5}}
},
"layer":[
{"data":{"name":"c3"},"mark":{"type":"line","color":"#1a1a1a","strokeWidth":1,"interpolate":"monotone","clip":true},"encoding":{"detail":{"field":"k","type":"nominal"}}},
{"data":{"name":"r3"},"mark":{"type":"rule","color":"#8c8c8c","strokeWidth":1},"encoding":{"x2":{"field":"x2"},"y2":{"field":"y2"}}},
{"data":{"name":"l3"},"mark":{"type":"point","filled":true,"fill":"#ffffff","stroke":"#222222","strokeWidth":1,"opacity":1,"size":400},
"encoding":{"shape":{"field":"t","type":"nominal","scale":{"domain":["60","80","100","120","140","160","180"],"range":["M-0.62,-0.45L0.62,-0.45L0.62,0.45L-0.62,0.45Z","M-0.77,-0.45L0.77,-0.45L0.77,0.45L-0.77,0.45Z","M-1,-0.47L1,-0.47L1,0.47L-1,0.47Z","M-0.97,-0.45L0.97,-0.45L0.97,0.45L-0.97,0.45Z","M-1,-0.45L1,-0.45L1,0.45L-1,0.45Z","M-1,-0.45L1,-0.45L1,0.45L-1,0.45Z","M-1,-0.45L1,-0.45L1,0.45L-1,0.45Z"]},"legend":null}}},
{"data":{"name":"l3"},"mark":{"type":"text","font":"DejaVu Sans","fontSize":8,"color":"#333333","align":"center","baseline":"middle"},"encoding":{"text":{"field":"t","type":"nominal"}}},
{"data":{"name":"p3"},"mark":{"type":"point","shape":"M-3.75,-0.67L3.75,-0.67L3.75,0.67L-3.75,0.67Z","filled":true,"fill":"#ffffff","stroke":"#9a9a9a","strokeWidth":1,"opacity":1,"size":400}},
{"data":{"name":"p3"},"mark":{"type":"text","font":"DejaVu Sans","fontSize":8.5,"color":"#333333","align":"center","baseline":"middle"},"encoding":{"text":{"field":"t","type":"nominal"}}}
]}
],
"resolve":{"scale":{"x":"independent","y":"independent"}}
}
]
}
